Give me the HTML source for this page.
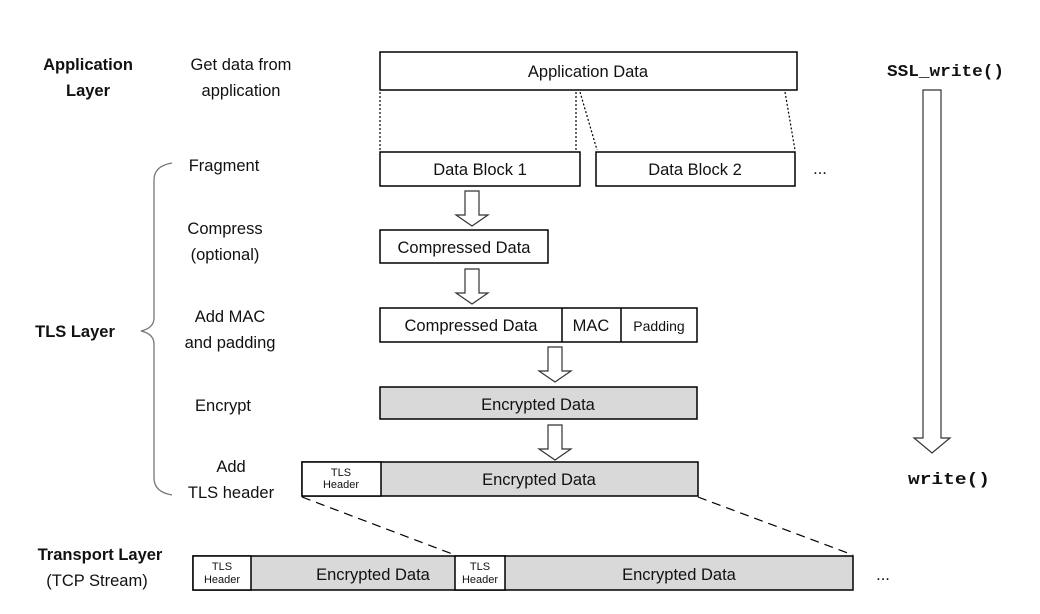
<!DOCTYPE html>
<html><head><meta charset="utf-8"><style>
html,body{margin:0;padding:0;background:#fff;}
svg{display:block;}
text{font-family:"Liberation Sans",sans-serif;fill:#111;}
.b{font-weight:bold;}
.m{font-family:"Liberation Mono",monospace;font-weight:bold;}
</style></head><body>
<svg width="1040" height="614" viewBox="0 0 1040 614" xmlns="http://www.w3.org/2000/svg">
<g font-size="16.5" text-anchor="middle">
<text x="88" y="70" class="b">Application</text>
<text x="88" y="96" class="b">Layer</text>
<text x="241" y="70">Get data from</text>
<text x="241" y="96">application</text>
<text x="224" y="171">Fragment</text>
<text x="225" y="234">Compress</text>
<text x="225" y="260">(optional)</text>
<text x="75" y="337" class="b">TLS Layer</text>
<text x="230" y="322">Add MAC</text>
<text x="230" y="348">and padding</text>
<text x="223" y="411">Encrypt</text>
<text x="231" y="472">Add</text>
<text x="231" y="498">TLS header</text>
<text x="100" y="560" class="b">Transport Layer</text>
<text x="97" y="586">(TCP Stream)</text>
</g>
<text x="887" y="76" class="m" font-size="17" textLength="117" lengthAdjust="spacingAndGlyphs">SSL_write()</text>
<text x="908" y="484" class="m" font-size="17" textLength="82" lengthAdjust="spacingAndGlyphs">write()</text>
<!-- brace -->
<path d="M172,163 Q154,166 154,180 L154,318 Q154,328 141,331 Q154,334 154,344 L154,478 Q154,492 172,495" fill="none" stroke="#777" stroke-width="1.3"/>
<g stroke="#000" stroke-width="1.5" fill="#fff">
<rect x="380" y="52" width="417" height="38"/>
<rect x="380" y="152" width="200" height="34"/>
<rect x="596" y="152" width="199" height="34"/>
<rect x="380" y="230" width="168" height="33"/>
<rect x="380" y="308" width="317" height="34"/>
<line x1="562" y1="308" x2="562" y2="342"/>
<line x1="621" y1="308" x2="621" y2="342"/>
<rect x="380" y="387" width="317" height="32" fill="#d9d9d9"/>
<rect x="302" y="462" width="396" height="34" fill="#d9d9d9"/>
<rect x="302" y="462" width="79" height="34"/>
<rect x="193" y="556" width="660" height="34" fill="#d9d9d9"/>
<rect x="193" y="556" width="58" height="34"/>
<rect x="455" y="556" width="50" height="34"/>
</g>
<g stroke="#000" stroke-width="1.2" stroke-dasharray="2,2" fill="none">
<line x1="380" y1="92" x2="380" y2="150"/>
<line x1="576" y1="92" x2="576" y2="150"/>
<line x1="580" y1="92" x2="597" y2="150"/>
<line x1="785" y1="92" x2="795" y2="150"/>
</g>
<g stroke="#000" stroke-width="1.2" stroke-dasharray="9,6" fill="none">
<line x1="302" y1="497" x2="455" y2="555"/>
<line x1="698" y1="497" x2="853" y2="555"/>
</g>
<g stroke="#333" stroke-width="1.2" fill="#fff">
<path d="M465,191 L479,191 L479,215 L488,215 L472,226 L456,215 L465,215 Z"/>
<path d="M465,269 L479,269 L479,293 L488,293 L472,304 L456,293 L465,293 Z"/>
<path d="M548,347 L562,347 L562,371 L571,371 L555,382 L539,371 L548,371 Z"/>
<path d="M548,425 L562,425 L562,449 L571,449 L555,460 L539,449 L548,449 Z"/>
<path d="M923,90 L941,90 L941,438 L950,438 L932,453 L914,438 L923,438 Z"/>
</g>
<g text-anchor="middle" font-size="16.5">
<text x="588" y="77">Application Data</text>
<text x="480" y="175">Data Block 1</text>
<text x="695" y="175">Data Block 2</text>
<text x="464" y="253">Compressed Data</text>
<text x="471" y="331">Compressed Data</text>
<text x="591" y="331">MAC</text>
<text x="659" y="331" font-size="14">Padding</text>
<text x="538" y="410">Encrypted Data</text>
<text x="539" y="485">Encrypted Data</text>
<text x="373" y="580">Encrypted Data</text>
<text x="679" y="580">Encrypted Data</text>
<g font-size="11">
<text x="341" y="476">TLS</text><text x="341" y="488">Header</text>
<text x="222" y="570">TLS</text><text x="222" y="583">Header</text>
<text x="480" y="570">TLS</text><text x="480" y="583">Header</text>
</g>
<text x="820" y="174">...</text>
<text x="883" y="580">...</text>
</g>
</svg>
</body></html>
